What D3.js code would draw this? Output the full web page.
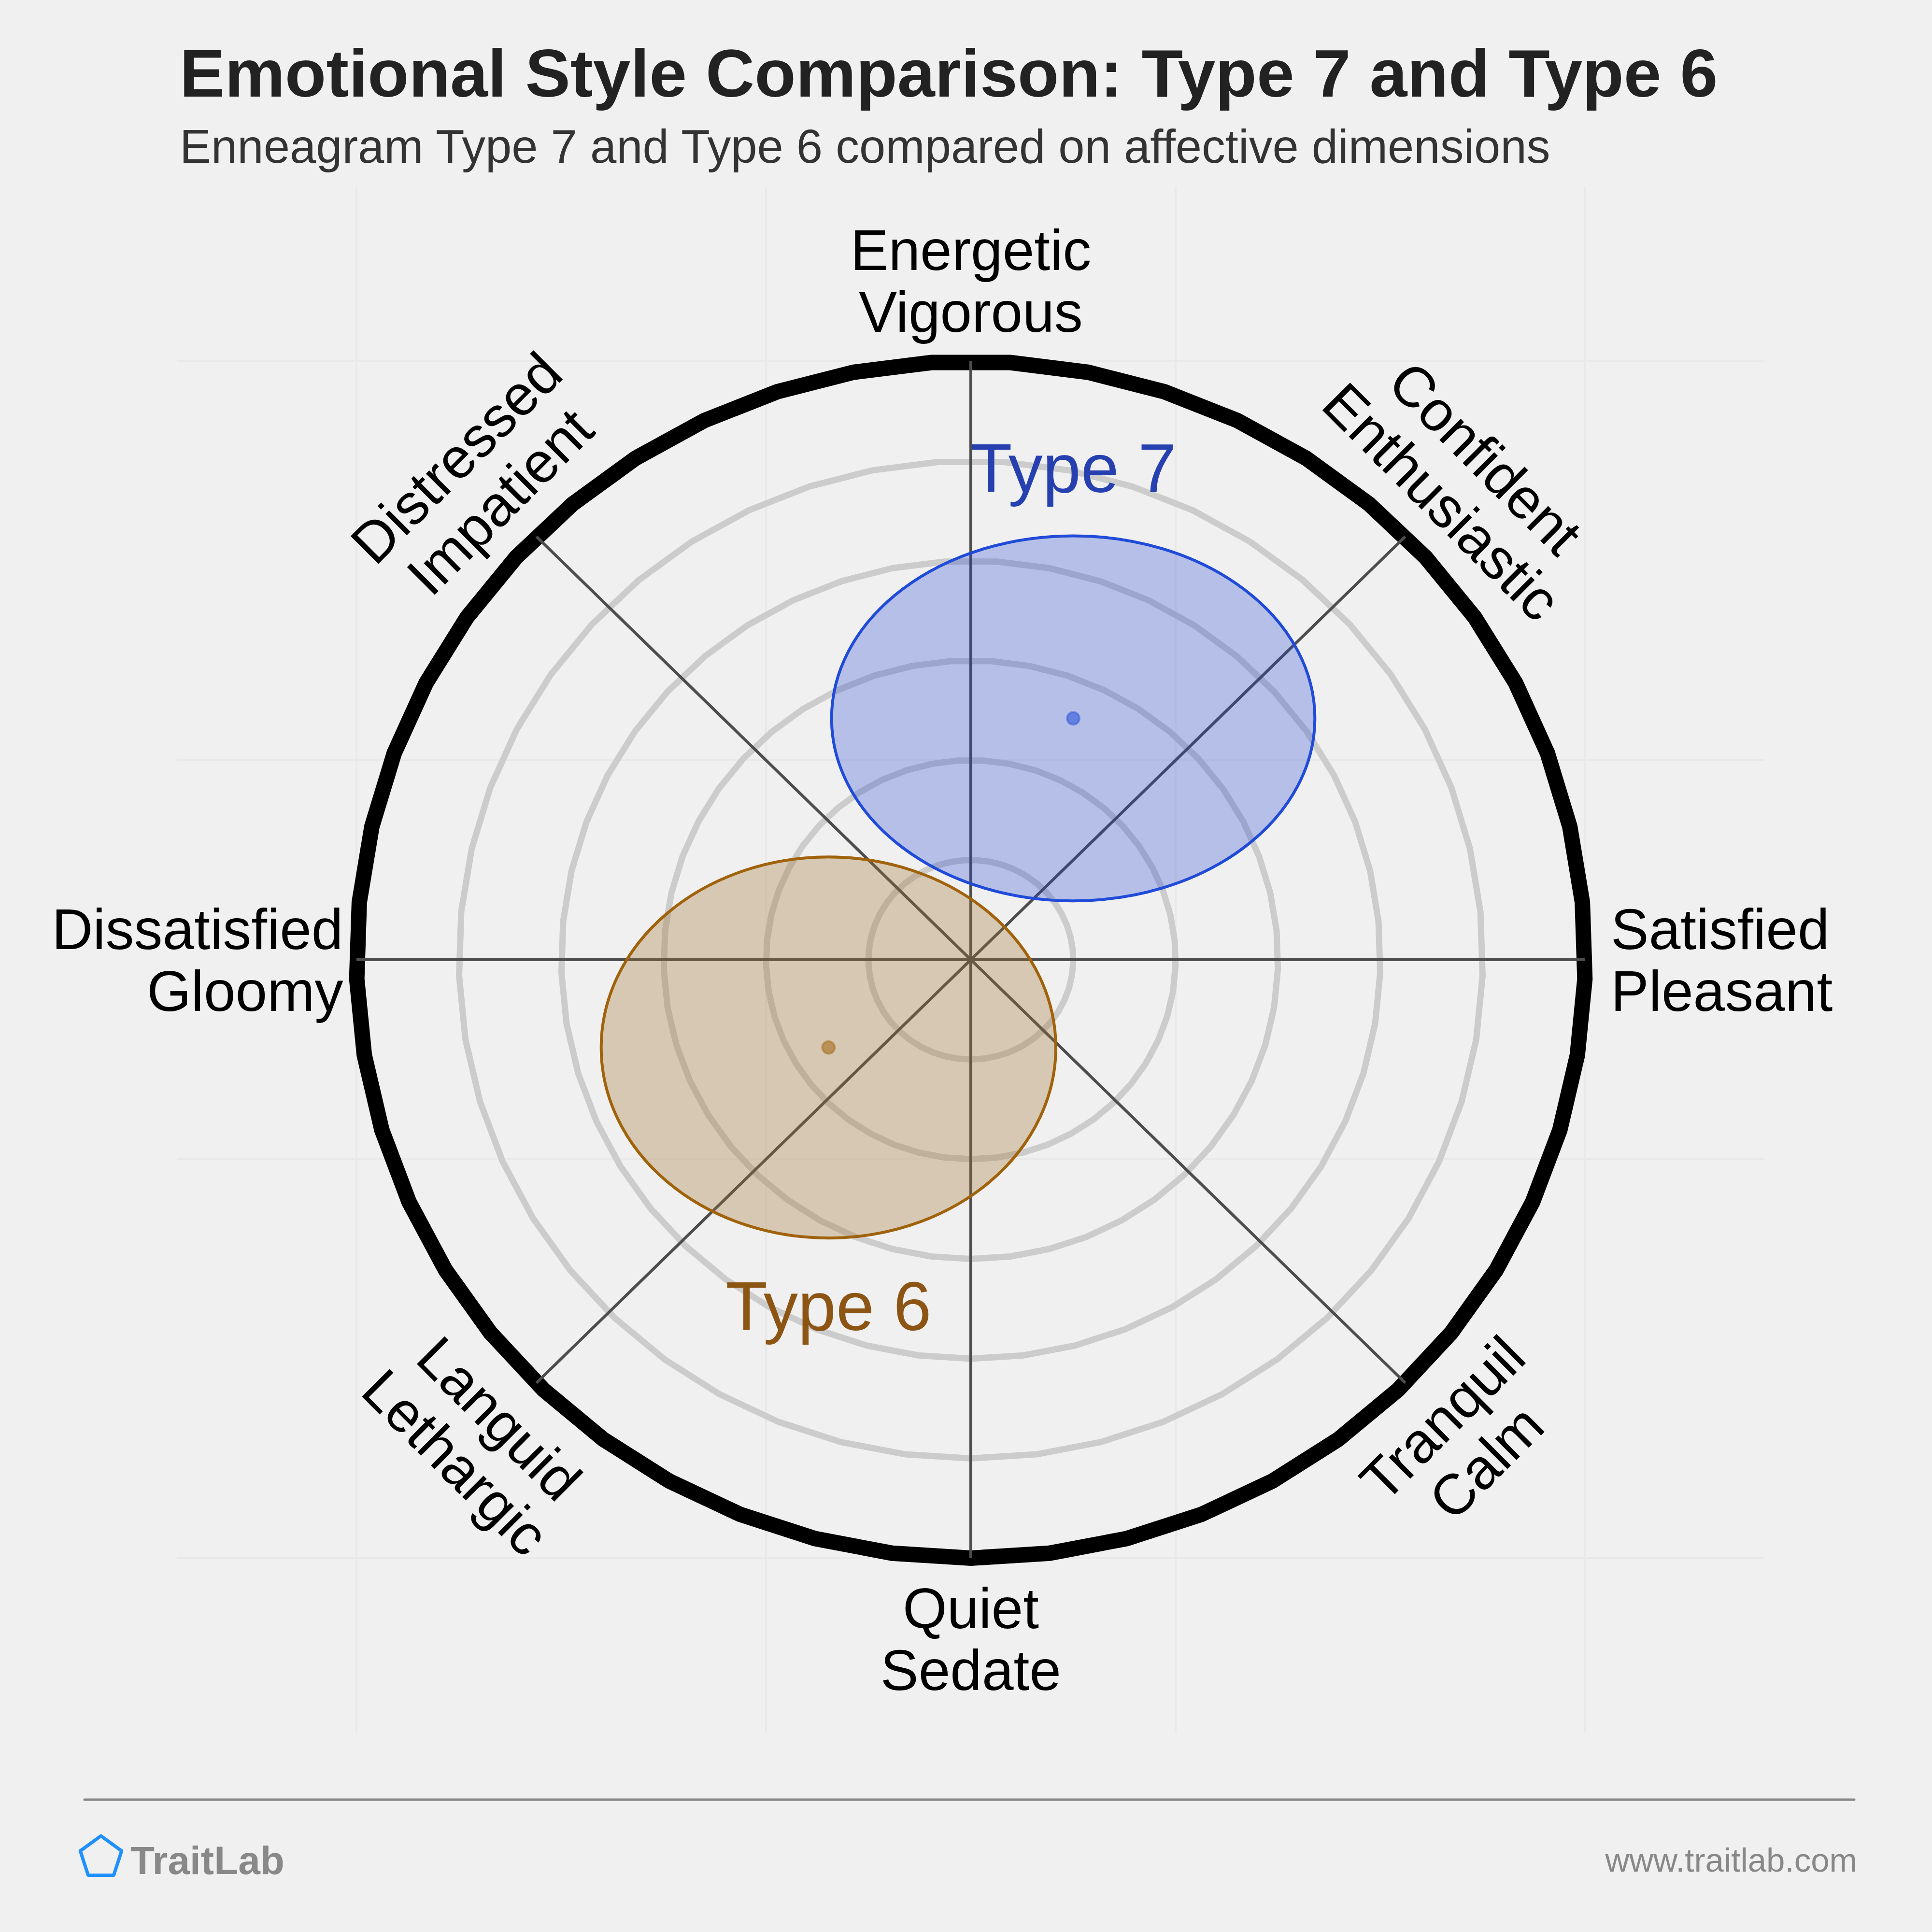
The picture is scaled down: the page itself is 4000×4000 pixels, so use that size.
<html>
<head>
<style>
  body { margin: 0; background: #f0f0f0; }
  text { font-family: "Liberation Sans", Arial, sans-serif; }
</style>
</head>
<body>
<svg id="chart" width="4000" height="4000"></svg>

<script src="https://d3js.org/d3.v7.min.js"></script>
<script>
// ---- data ----
const axisAngles = [0, 45, 90, 135, 180, 225, 270, 315]
const axisLabels = [
    ["Satisfied", "Pleasant"],
    ["Confident", "Enthusiastic"],
    ["Energetic", "Vigorous"],
    ["Distressed", "Impatient"],
    ["Dissatisfied", "Gloomy"],
    ["Languid", "Lethargic"],
    ["Quiet", "Sedate"],
    ["Tranquil", "Calm"]
]
const ringRadii = [1, 2, 3, 4, 5]
const outerRadius = 6
const gridTicks = [-6, -2, 2, 6]

const typeNames = ["Type 7", "Type 6"]
const centerX = [1.0, -1.39]
const centerY = [2.42, -0.88]
const spreadX = [2.36, 2.22]
const spreadY = [1.83, 1.91]
const strokeColors = ["#1f4bd8", "#a0620a"]
const fillColors = ["rgba(26,60,210,0.27)", "rgba(163,112,48,0.31)"]
const labelColors = ["#2640b0", "#8c5514"]

// ---- layout ----
let svg = d3.select("#chart")
let cx = 2010, cy = 1987
let x = d3.scaleLinear().domain([-6, 6]).range([cx - 1272, cx + 1272])
let y = d3.scaleLinear().domain([-6, 6]).range([cy + 1239, cy - 1239])

svg.append("rect").attr("width", 4000).attr("height", 4000).attr("fill", "#f0f0f0")

// title block
svg.append("text").attr("x", 372).attr("y", 200)
    .attr("font-size", 140).attr("font-weight", "bold").attr("fill", "#222")
    .text("Emotional Style Comparison: Type 7 and Type 6")
svg.append("text").attr("x", 372).attr("y", 337)
    .attr("font-size", 97.6).attr("fill", "#333")
    .text("Enneagram Type 7 and Type 6 compared on affective dimensions")

// faint background grid
let plot = svg.append("g")
plot.selectAll(".vgrid").data(gridTicks).enter().append("line")
    .attr("x1", d => x(d)).attr("x2", d => x(d))
    .attr("y1", y(7.75)).attr("y2", y(-7.75))
    .attr("stroke", "#e9e9e9").attr("stroke-width", 4)
plot.selectAll(".hgrid").data(gridTicks).enter().append("line")
    .attr("y1", d => y(d)).attr("y2", d => y(d))
    .attr("x1", x(-7.75)).attr("x2", x(7.75))
    .attr("stroke", "#e9e9e9").attr("stroke-width", 4)

// polygonal rings (49 segments, starting at the bottom), sampled in data space
function ringPath(r) {
    let n = 49
    let pts = d3.range(n).map(i => {
        let a = -Math.PI / 2 + i / n * 2 * Math.PI
        return [x(r * Math.cos(a)), y(r * Math.sin(a))]
    })
    return d3.line().curve(d3.curveLinearClosed)(pts)
}

plot.selectAll(".ring").data(ringRadii).enter().append("path")
    .attr("d", d => ringPath(d))
    .attr("fill", "none").attr("stroke", "#cccccc").attr("stroke-width", 13)

plot.append("path").attr("d", ringPath(outerRadius))
    .attr("fill", "none").attr("stroke", "#000").attr("stroke-width", 32)

// spokes
plot.selectAll(".spoke").data(axisAngles).enter().append("line")
    .attr("x1", x(0)).attr("y1", y(0))
    .attr("x2", d => x(outerRadius * Math.cos(d * Math.PI / 180)))
    .attr("y2", d => y(outerRadius * Math.sin(d * Math.PI / 180)))
    .attr("stroke", "#4d4d4d").attr("stroke-width", 6)

// type ellipses
let types = d3.range(typeNames.length)
plot.selectAll(".blob").data(types).enter().append("ellipse")
    .attr("cx", i => x(centerX[i])).attr("cy", i => y(centerY[i]))
    .attr("rx", i => x(spreadX[i]) - x(0))
    .attr("ry", i => y(0) - y(spreadY[i]))
    .attr("fill", i => fillColors[i])
    .attr("stroke", i => strokeColors[i]).attr("stroke-width", 6)

plot.selectAll(".dot").data(types).enter().append("circle")
    .attr("cx", i => x(centerX[i])).attr("cy", i => y(centerY[i]))
    .attr("r", 13)
    .attr("fill", i => strokeColors[i]).attr("fill-opacity", 0.55)
    .attr("stroke", i => strokeColors[i]).attr("stroke-opacity", 0.4).attr("stroke-width", 4)

// type labels: above the blob if it sits high, below otherwise
plot.selectAll(".tlabel").data(types).enter().append("text")
    .attr("x", i => x(centerX[i]))
    .attr("y", i => centerY[i] > 0
        ? y(centerY[i] + spreadY[i]) - 90
        : y(centerY[i] - spreadY[i]) + 90 + 101)
    .attr("text-anchor", "middle").attr("font-size", 142)
    .attr("fill", i => labelColors[i])
    .text(i => typeNames[i])

// axis labels
let labelR = 6.81
let lineGap = 128
axisAngles.forEach((a, i) => {
    let rad = a * Math.PI / 180
    let g = plot.append("g")
    let anchor = "middle"
    let px, py, rot = 0
    if (a === 0 || a === 180) {
        px = x((a === 0 ? 6.25 : -6.13))
        py = y(0)
        anchor = a === 0 ? "start" : "end"
    } else {
        px = x(labelR * Math.cos(rad))
        py = y(labelR * Math.sin(rad))
        if (a === 45 || a === 225) rot = 45
        if (a === 135 || a === 315) rot = -45
    }
    g.attr("transform", `translate(${px},${py}) rotate(${rot})`)
    axisLabels[i].forEach((t, j) => {
        g.append("text")
            .attr("x", 0).attr("y", (j - 0.5) * lineGap + 42)
            .attr("text-anchor", anchor).attr("font-size", 118).attr("fill", "#000")
            .text(t)
    })
})

// footer
svg.append("line").attr("x1", 175).attr("x2", 3839).attr("y1", 3726).attr("y2", 3726)
    .attr("stroke", "#888").attr("stroke-width", 5).attr("stroke-linecap", "round")

let pent = d3.range(5).map(k => {
    let a = -Math.PI / 2 + k * 2 * Math.PI / 5
    return [209 + 45 * Math.cos(a), 3846 + 45 * Math.sin(a)]
})
svg.append("path").attr("d", d3.line().curve(d3.curveLinearClosed)(pent))
    .attr("fill", "none").attr("stroke", "#1e90ff").attr("stroke-width", 7)
    .attr("stroke-linejoin", "round")

svg.append("text").attr("x", 270).attr("y", 3880)
    .attr("font-size", 82).attr("font-weight", "bold").attr("fill", "#888")
    .text("TraitLab")
svg.append("text").attr("x", 3845).attr("y", 3875)
    .attr("text-anchor", "end").attr("font-size", 69).attr("fill", "#888")
    .text("www.traitlab.com")
</script>
</body>
</html>
